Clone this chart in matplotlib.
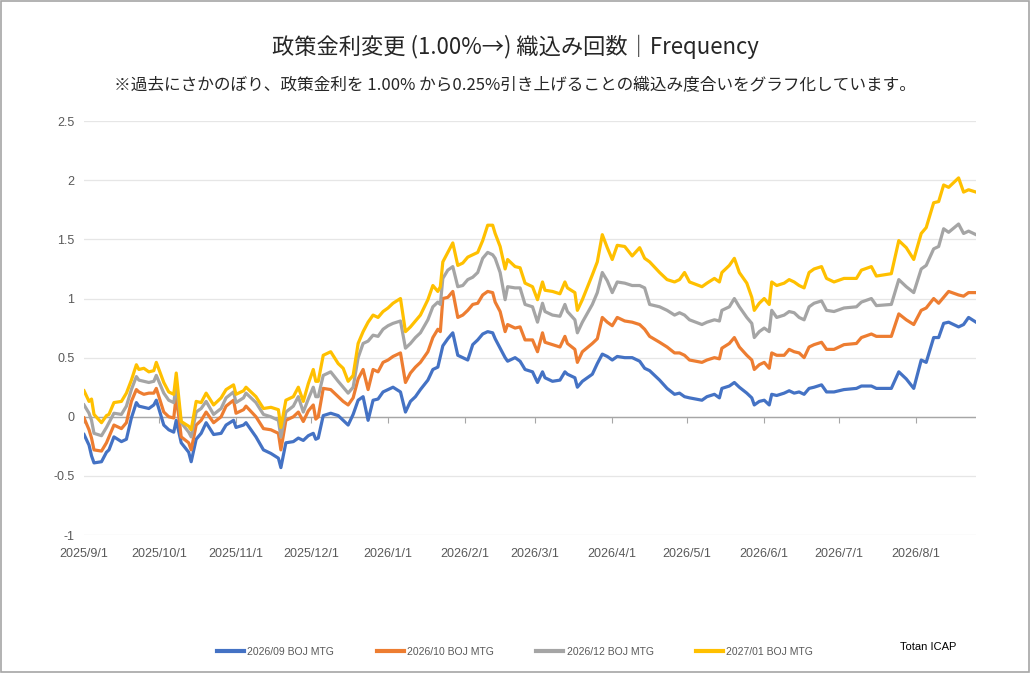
import pandas as pd
import matplotlib.pyplot as plt
import matplotlib.dates as mdates
from matplotlib.patches import Rectangle
from matplotlib.ticker import FuncFormatter

start = "2025-09-01"
# days counted from 2025/9/1
day_offset = [0, 2, 3, 4, 7, 9, 10, 12, 15, 17, 19, 21, 22, 24, 26, 28, 29, 32, 34, 36,
              37, 39, 42, 43, 45, 47, 49, 52, 55, 57, 60, 61, 64, 65, 69, 72, 75, 78, 79, 81,
              84, 86, 88, 90, 92, 93, 94, 96, 99, 102, 104, 106, 108, 110, 112, 114, 116, 118, 120, 122,
              124, 127, 129, 131, 133, 135, 138, 140, 142, 143, 144, 146, 148, 150, 152, 154, 156, 158, 160, 162,
              164, 165, 167, 169, 170, 173, 175, 177, 180, 182, 184, 185, 188, 191, 193, 194, 197, 198, 200, 204,
              206, 208, 210, 212, 214, 217, 220, 223, 225, 227, 231, 234, 237, 239, 241, 243, 248, 250, 253, 255,
              256, 259, 261, 263, 266, 268, 269, 271, 273, 275, 276, 278, 281, 283, 285, 287, 289, 291, 293, 296,
              298, 301, 305, 310, 312, 316, 318, 324, 327, 330, 333, 336, 338, 341, 343, 345, 347, 351, 353, 355,
              358]

mtg_0926 = [-0.15, -0.24, -0.33, -0.39, -0.38, -0.30, -0.28, -0.17, -0.21, -0.19, -0.01, 0.12, 0.09, 0.08, 0.07, 0.10, 0.14, -0.07, -0.11, -0.13,
            -0.03, -0.22, -0.30, -0.38, -0.19, -0.14, -0.05, -0.15, -0.14, -0.07, -0.03, -0.09, -0.07, -0.05, -0.17, -0.28, -0.31, -0.35, -0.43, -0.22,
            -0.21, -0.18, -0.20, -0.16, -0.14, -0.19, -0.18, 0.01, 0.03, 0.01, -0.03, -0.07, 0.02, 0.14, 0.17, -0.03, 0.14, 0.15, 0.21, 0.23,
            0.25, 0.21, 0.04, 0.13, 0.17, 0.23, 0.31, 0.40, 0.42, 0.51, 0.60, 0.66, 0.71, 0.52, 0.50, 0.48, 0.61, 0.65, 0.70, 0.72,
            0.71, 0.66, 0.58, 0.50, 0.47, 0.50, 0.47, 0.40, 0.38, 0.29, 0.38, 0.33, 0.30, 0.31, 0.38, 0.36, 0.33, 0.25, 0.30, 0.36,
            0.45, 0.53, 0.51, 0.48, 0.51, 0.50, 0.50, 0.47, 0.41, 0.39, 0.31, 0.24, 0.19, 0.20, 0.17, 0.16, 0.14, 0.17, 0.19, 0.16,
            0.24, 0.26, 0.29, 0.25, 0.20, 0.16, 0.10, 0.13, 0.14, 0.10, 0.19, 0.18, 0.20, 0.22, 0.20, 0.21, 0.19, 0.24, 0.25, 0.27,
            0.21, 0.21, 0.23, 0.24, 0.26, 0.26, 0.24, 0.24, 0.38, 0.32, 0.24, 0.48, 0.46, 0.67, 0.67, 0.79, 0.80, 0.76, 0.78, 0.84,
            0.80]

mtg_1026 = [-0.01, -0.11, -0.18, -0.28, -0.29, -0.22, -0.17, -0.07, -0.10, -0.05, 0.13, 0.23, 0.21, 0.19, 0.20, 0.20, 0.24, 0.04, 0.00, -0.01,
            0.18, -0.17, -0.22, -0.28, -0.07, -0.03, 0.04, -0.05, 0.00, 0.09, 0.14, 0.03, 0.06, 0.09, 0.00, -0.10, -0.11, -0.14, -0.28, -0.03,
            0.00, 0.04, -0.04, 0.05, 0.10, -0.02, 0.00, 0.24, 0.23, 0.17, 0.13, 0.10, 0.16, 0.32, 0.40, 0.23, 0.40, 0.38, 0.46, 0.48,
            0.51, 0.54, 0.29, 0.37, 0.42, 0.46, 0.55, 0.67, 0.74, 0.72, 1.00, 1.01, 1.06, 0.84, 0.86, 0.90, 0.95, 0.96, 1.03, 1.06,
            1.05, 0.97, 0.89, 0.72, 0.78, 0.75, 0.76, 0.65, 0.65, 0.55, 0.71, 0.63, 0.61, 0.59, 0.68, 0.62, 0.57, 0.46, 0.55, 0.62,
            0.66, 0.84, 0.80, 0.77, 0.84, 0.81, 0.80, 0.78, 0.74, 0.68, 0.63, 0.59, 0.54, 0.54, 0.52, 0.48, 0.46, 0.48, 0.50, 0.49,
            0.58, 0.62, 0.67, 0.59, 0.52, 0.48, 0.40, 0.44, 0.46, 0.41, 0.54, 0.52, 0.52, 0.57, 0.55, 0.54, 0.50, 0.59, 0.61, 0.63,
            0.57, 0.57, 0.61, 0.62, 0.67, 0.70, 0.68, 0.68, 0.87, 0.82, 0.78, 0.90, 0.92, 1.00, 0.96, 1.01, 1.06, 1.03, 1.02, 1.05,
            1.05]

mtg_1226 = [0.10, 0.03, -0.03, -0.14, -0.16, -0.09, -0.05, 0.03, 0.02, 0.09, 0.23, 0.34, 0.31, 0.30, 0.29, 0.30, 0.35, 0.20, 0.14, 0.12,
            0.26, -0.05, -0.13, -0.17, 0.04, 0.07, 0.13, 0.02, 0.07, 0.16, 0.21, 0.12, 0.16, 0.20, 0.12, 0.02, 0.00, -0.03, -0.17, 0.04,
            0.09, 0.17, 0.04, 0.15, 0.25, 0.17, 0.17, 0.35, 0.38, 0.30, 0.25, 0.20, 0.25, 0.50, 0.62, 0.64, 0.69, 0.68, 0.74, 0.77,
            0.79, 0.81, 0.58, 0.62, 0.67, 0.71, 0.82, 0.93, 0.97, 0.95, 1.17, 1.24, 1.27, 1.10, 1.11, 1.16, 1.18, 1.22, 1.34, 1.39,
            1.37, 1.34, 1.22, 0.99, 1.10, 1.09, 1.09, 0.95, 0.93, 0.80, 0.96, 0.89, 0.86, 0.85, 0.95, 0.89, 0.82, 0.71, 0.80, 0.95,
            1.05, 1.22, 1.15, 1.05, 1.14, 1.13, 1.11, 1.11, 1.09, 0.95, 0.93, 0.90, 0.86, 0.88, 0.86, 0.82, 0.78, 0.80, 0.82, 0.81,
            0.90, 0.93, 1.00, 0.93, 0.84, 0.79, 0.67, 0.72, 0.75, 0.72, 0.90, 0.84, 0.86, 0.89, 0.88, 0.84, 0.82, 0.93, 0.96, 0.98,
            0.90, 0.89, 0.92, 0.93, 0.97, 1.00, 0.94, 0.95, 1.16, 1.10, 1.05, 1.25, 1.28, 1.42, 1.44, 1.59, 1.56, 1.63, 1.55, 1.57,
            1.54]

mtg_0127 = [0.22, 0.13, 0.15, 0.02, -0.05, 0.01, 0.02, 0.12, 0.13, 0.20, 0.31, 0.44, 0.40, 0.41, 0.38, 0.39, 0.46, 0.29, 0.21, 0.19,
            0.37, -0.04, -0.08, -0.11, 0.13, 0.12, 0.20, 0.10, 0.16, 0.23, 0.27, 0.19, 0.22, 0.25, 0.17, 0.07, 0.08, 0.06, -0.09, 0.14,
            0.17, 0.25, 0.13, 0.28, 0.40, 0.30, 0.30, 0.52, 0.55, 0.45, 0.41, 0.30, 0.35, 0.62, 0.72, 0.80, 0.86, 0.84, 0.89, 0.92,
            0.96, 1.00, 0.72, 0.76, 0.81, 0.86, 0.99, 1.11, 1.06, 1.10, 1.31, 1.39, 1.47, 1.28, 1.30, 1.35, 1.37, 1.39, 1.49, 1.62,
            1.62, 1.55, 1.44, 1.25, 1.33, 1.27, 1.26, 1.13, 1.10, 0.99, 1.14, 1.07, 1.06, 1.04, 1.14, 1.09, 1.05, 0.90, 0.99, 1.20,
            1.31, 1.54, 1.43, 1.33, 1.45, 1.44, 1.36, 1.43, 1.34, 1.31, 1.22, 1.16, 1.14, 1.16, 1.22, 1.14, 1.10, 1.13, 1.17, 1.14,
            1.22, 1.28, 1.34, 1.22, 1.13, 1.01, 0.90, 0.96, 1.00, 0.95, 1.14, 1.11, 1.13, 1.16, 1.14, 1.11, 1.09, 1.22, 1.25, 1.27,
            1.17, 1.14, 1.17, 1.17, 1.24, 1.27, 1.19, 1.21, 1.49, 1.43, 1.33, 1.55, 1.60, 1.81, 1.82, 1.96, 1.94, 2.02, 1.90, 1.92,
            1.90]

series_names = ["2026/09 BOJ MTG", "2026/10 BOJ MTG", "2026/12 BOJ MTG", "2027/01 BOJ MTG"]
series_colors = ["#4472C4", "#ED7D31", "#A5A5A5", "#FFC000"]
y_ticks = [-1, -0.5, 0, 0.5, 1, 1.5, 2, 2.5]

title = "政策金利変更 (1.00%→) 織込み回数｜Frequency"
subtitle = "※過去にさかのぼり、政策金利を 1.00% から0.25%引き上げることの織込み度合いをグラフ化しています。"

dates = pd.to_datetime(start) + pd.to_timedelta(day_offset, unit="D")
df = pd.DataFrame({series_names[0]: mtg_0926, series_names[1]: mtg_1026,
                   series_names[2]: mtg_1226, series_names[3]: mtg_0127}, index=dates)

jp = ["Noto Sans CJK JP", "DejaVu Sans"]
tick_font = ["Liberation Sans Narrow", "Liberation Sans", "DejaVu Sans"]
grey_txt = "#595959"

fig = plt.figure(figsize=(10.3, 6.73), dpi=100)
ax = fig.add_axes([0.0816, 0.205, 0.866, 0.615])

for name, color in zip(series_names, series_colors):
    ax.plot(df.index, df[name], color=color, lw=2.3, label=name, solid_joinstyle="round")

ax.set_ylim(-1, 2.5)
ax.set_xlim(df.index[0], df.index[-1])
ax.set_yticks(y_ticks)
ax.yaxis.set_major_formatter(FuncFormatter(lambda v, p: f"{v:g}"))
ax.grid(axis="y", color="#e6e6e6", lw=0.9)
ax.axhline(0, color="#a6a6a6", lw=1.0, zorder=1)
ax.set_axisbelow(True)
for s in ax.spines.values():
    s.set_visible(False)

ax.xaxis.set_major_locator(mdates.MonthLocator())
ax.xaxis.set_major_formatter(FuncFormatter(
    lambda v, p: f"{mdates.num2date(v).year}/{mdates.num2date(v).month}/{mdates.num2date(v).day}"))
ax.tick_params(axis="x", length=0, pad=9, labelsize=9, labelcolor=grey_txt)
ax.tick_params(axis="y", length=0, pad=7, labelsize=9, labelcolor=grey_txt)
for lab in ax.get_xticklabels() + ax.get_yticklabels():
    lab.set_family(tick_font)

# small tick marks on the zero line, like Excel
sec = ax.secondary_xaxis(1 / 3.5)
sec.xaxis.set_major_locator(mdates.MonthLocator())
sec.tick_params(axis="x", direction="out", length=4, color="#a6a6a6", labelbottom=False)
sec.spines["bottom"].set_visible(False)

fig.text(0.5, 0.931, title, ha="center", va="center", fontsize=16, family=jp, color="#262626")
fig.text(0.5, 0.874, subtitle, ha="center", va="center", fontsize=12, family=jp, color="#262626")

leg = fig.legend(loc="center", bbox_to_anchor=(0.5, 0.031), ncol=4, frameon=False,
                 fontsize=7.5, handlelength=2.6, columnspacing=4.1, handletextpad=0.3)
for t in leg.get_texts():
    t.set_color(grey_txt)
    t.set_family(tick_font)
for h in leg.get_lines():
    h.set_linewidth(3)

fig.text(0.874, 0.038, "Totan ICAP", fontsize=8, family=tick_font, color="black", va="center")

fig.patches.append(Rectangle((0.001, 0.001), 0.998, 0.997, transform=fig.transFigure,
                             fill=False, edgecolor="#a6a6a6", lw=1.2))

fig.savefig("out.png", dpi=100, facecolor="white")
